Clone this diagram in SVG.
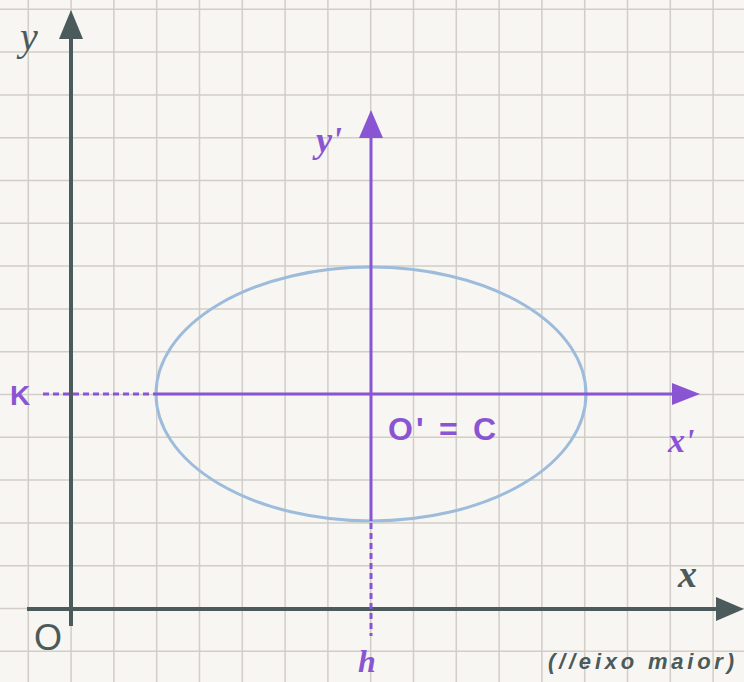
<svg xmlns="http://www.w3.org/2000/svg" width="744" height="682" viewBox="0 0 744 682">
<style>
.grid line{stroke:#d2cdc6;stroke-width:1.5}
.ax{stroke:#4b5a5a;stroke-width:4;fill:none}
.axh{fill:#4b5a5a}
.pu{stroke:#8a55d2;stroke-width:3;fill:none}
.pud{stroke:#8a55d2;stroke-width:3;fill:none;stroke-dasharray:6 4}
.puh{fill:#8a55d2}
.lbl{font-family:"Liberation Serif",serif;font-style:italic}
.pl{fill:#8a55d2;font-family:"Liberation Sans",sans-serif;font-weight:bold}
.dl{fill:#4b5a5a;font-family:"Liberation Sans",sans-serif}
</style>
<rect width="744" height="682" fill="#f8f6f2"/>
<g class="grid">
<line x1="28.3" y1="0" x2="28.3" y2="682"/><line x1="71.1" y1="0" x2="71.1" y2="682"/><line x1="113.9" y1="0" x2="113.9" y2="682"/><line x1="156.7" y1="0" x2="156.7" y2="682"/><line x1="199.5" y1="0" x2="199.5" y2="682"/><line x1="242.3" y1="0" x2="242.3" y2="682"/><line x1="285.1" y1="0" x2="285.1" y2="682"/><line x1="327.9" y1="0" x2="327.9" y2="682"/><line x1="370.7" y1="0" x2="370.7" y2="682"/><line x1="413.5" y1="0" x2="413.5" y2="682"/><line x1="456.3" y1="0" x2="456.3" y2="682"/><line x1="499.1" y1="0" x2="499.1" y2="682"/><line x1="541.9" y1="0" x2="541.9" y2="682"/><line x1="584.7" y1="0" x2="584.7" y2="682"/><line x1="627.5" y1="0" x2="627.5" y2="682"/><line x1="670.3" y1="0" x2="670.3" y2="682"/><line x1="713.1" y1="0" x2="713.1" y2="682"/>
<line x1="0" y1="9.3" x2="744" y2="9.3"/><line x1="0" y1="52.1" x2="744" y2="52.1"/><line x1="0" y1="94.9" x2="744" y2="94.9"/><line x1="0" y1="137.7" x2="744" y2="137.7"/><line x1="0" y1="180.5" x2="744" y2="180.5"/><line x1="0" y1="223.3" x2="744" y2="223.3"/><line x1="0" y1="266.1" x2="744" y2="266.1"/><line x1="0" y1="308.9" x2="744" y2="308.9"/><line x1="0" y1="351.7" x2="744" y2="351.7"/><line x1="0" y1="394.5" x2="744" y2="394.5"/><line x1="0" y1="437.3" x2="744" y2="437.3"/><line x1="0" y1="480.1" x2="744" y2="480.1"/><line x1="0" y1="522.9" x2="744" y2="522.9"/><line x1="0" y1="565.7" x2="744" y2="565.7"/><line x1="0" y1="608.5" x2="744" y2="608.5"/><line x1="0" y1="651.3" x2="744" y2="651.3"/>
</g>
<g id="ellipse"><ellipse cx="371" cy="394" rx="215" ry="127" fill="none" stroke="#9dbcdb" stroke-width="3"/></g>
<g id="connectors">
<line class="ax" x1="71" y1="626" x2="71" y2="36"/>
<polygon class="axh" points="71,10 59,39 83,39"/>
<line class="ax" x1="27" y1="609" x2="720" y2="609"/>
<polygon class="axh" points="744,609 716,597 716,621"/>
<line class="pud" x1="43" y1="394" x2="156" y2="394"/>
<line class="pu" x1="156" y1="394" x2="675" y2="394"/>
<polygon class="puh" points="700,394 672,383 672,405"/>
<line class="pu" x1="371" y1="521" x2="371" y2="134"/>
<polygon class="puh" points="371,110 359,138 383,138"/>
<line class="pud" x1="371" y1="523" x2="371" y2="636"/>
</g>
<g id="labels">
<text class="lbl" x="20" y="50" font-size="40" fill="#4b5a5a">y</text>
<text class="lbl" x="316" y="152" font-size="36" fill="#8a55d2" font-weight="bold">y'</text>
<text class="pl" x="10" y="405" font-size="28">K</text>
<text class="pl" x="388" y="440" font-size="32" textLength="108" lengthAdjust="spacing">O' = C</text>
<text class="lbl" x="668" y="452" font-size="34" fill="#8a55d2" font-weight="bold">x'</text>
<text class="lbl" x="678" y="587" font-size="38" fill="#4b5a5a" font-weight="bold">x</text>
<text class="dl" x="34" y="650" font-size="36">O</text>
<text class="lbl" x="358" y="672" font-size="32" fill="#8a55d2" font-weight="bold">h</text>
<text class="dl" x="548" y="669" font-size="22" font-style="italic" font-weight="bold" textLength="186" lengthAdjust="spacing">(//eixo maior)</text>
</g>
</svg>
